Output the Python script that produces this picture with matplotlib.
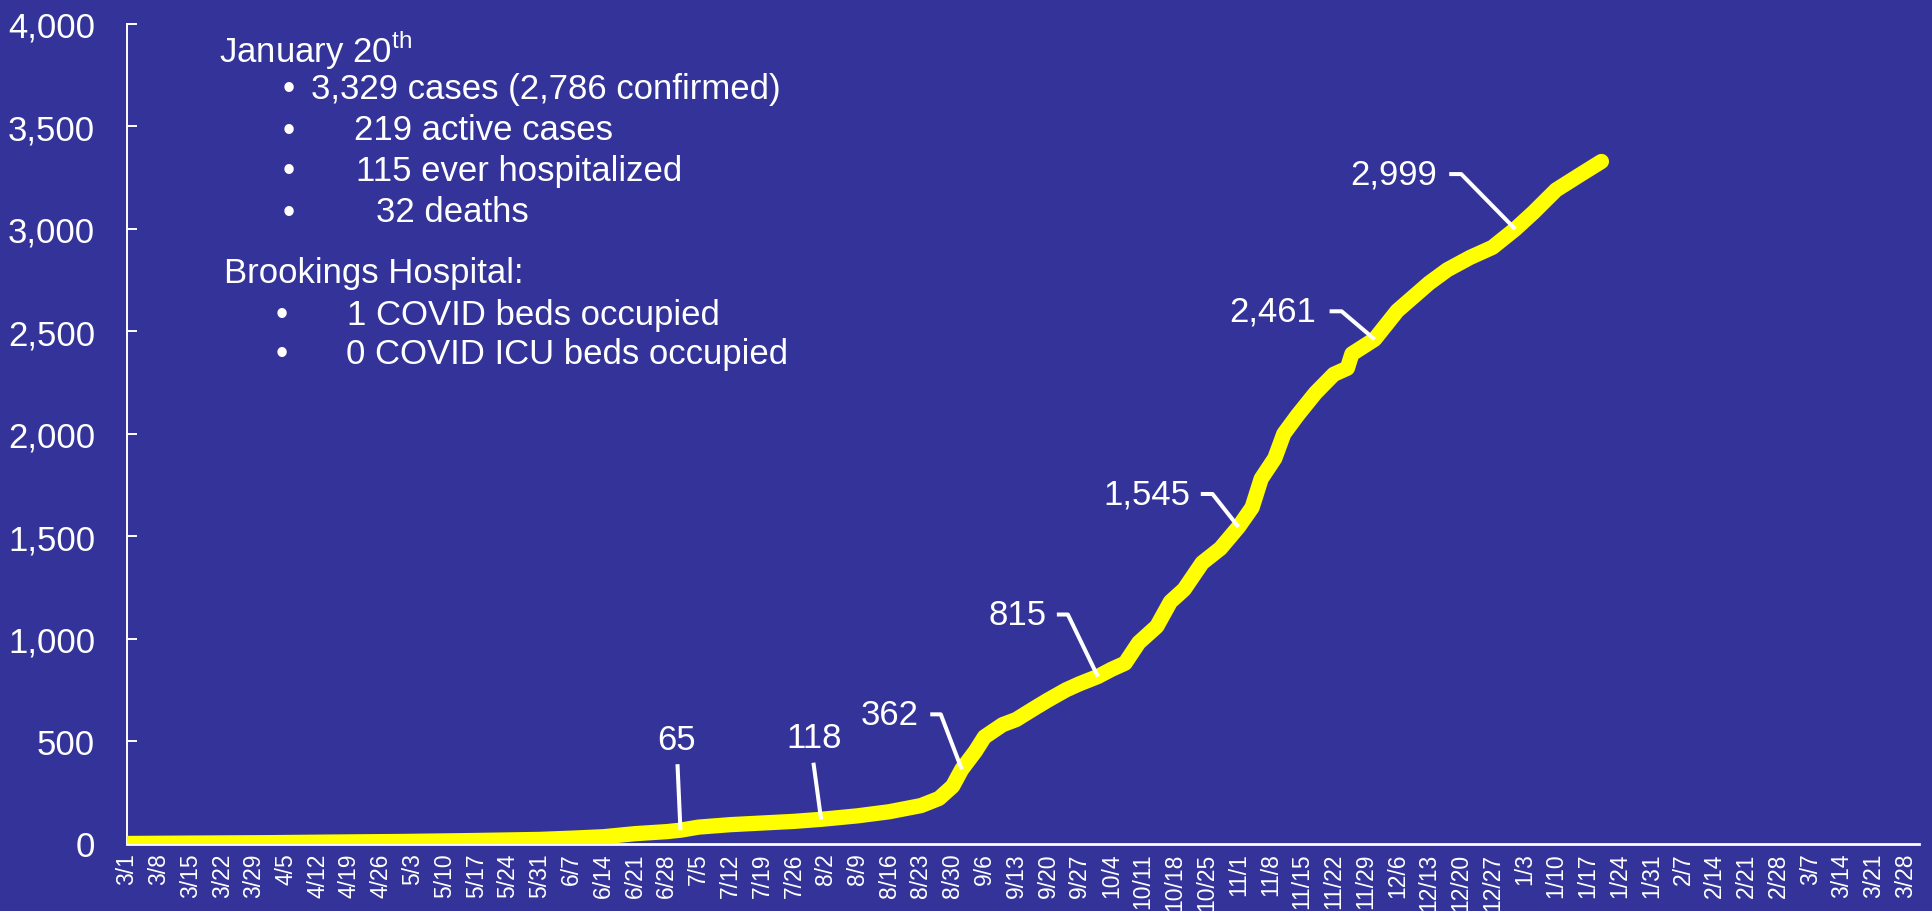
import numpy as np
import pandas as pd
import matplotlib
matplotlib.use('Agg')
import matplotlib.pyplot as plt
import matplotlib.transforms as mtransforms
from matplotlib.ticker import FuncFormatter

plt.rcParams['font.family'] = ['Liberation Sans', 'DejaVu Sans']
plt.rcParams['mathtext.fontset'] = 'custom'
plt.rcParams['mathtext.rm'] = 'Liberation Sans'

# cumulative cases
dates = ['2020-03-01', '2020-03-15', '2020-04-01', '2020-04-15', '2020-05-01',
         '2020-05-15', '2020-05-31', '2020-06-07', '2020-06-14', '2020-06-21',
         '2020-06-28', '2020-07-01', '2020-07-05', '2020-07-12', '2020-07-19',
         '2020-07-26', '2020-08-01', '2020-08-09', '2020-08-16', '2020-08-23',
         '2020-08-27', '2020-08-30', '2020-09-01', '2020-09-04', '2020-09-06',
         '2020-09-10', '2020-09-13', '2020-09-17', '2020-09-20', '2020-09-24',
         '2020-09-27', '2020-10-01', '2020-10-04', '2020-10-07', '2020-10-10',
         '2020-10-14', '2020-10-17', '2020-10-20', '2020-10-24', '2020-10-28',
         '2020-11-01', '2020-11-04', '2020-11-06', '2020-11-09', '2020-11-11',
         '2020-11-14', '2020-11-18', '2020-11-22', '2020-11-25', '2020-11-26',
         '2020-12-01', '2020-12-06', '2020-12-13', '2020-12-17', '2020-12-22',
         '2020-12-27', '2021-01-01', '2021-01-05', '2021-01-10', '2021-01-15',
         '2021-01-20']
cases = [0, 2, 4, 7, 10,
         14, 20, 26, 33, 48,
         58, 65, 80, 92, 100,
         108, 118, 135, 155, 185,
         220, 280, 362, 450, 520,
         580, 605, 660, 700, 750,
         780, 815, 850, 880, 980,
         1060, 1180, 1240, 1370, 1440,
         1545, 1640, 1780, 1880, 2000,
         2090, 2200, 2290, 2320, 2390,
         2461, 2600, 2735, 2800, 2860,
         2910, 2999, 3080, 3190, 3260,
         3329]

label_dates = ['2020-07-01', '2020-08-01', '2020-09-01', '2020-10-01',
               '2020-11-01', '2020-12-01', '2021-01-01']

start = pd.Timestamp('2020-03-01')
end = pd.Timestamp('2021-03-31')
tick_dates = pd.date_range('2020-03-01', '2021-03-28', freq='7D')
tick_labels = [f'{d.month}/{d.day}' for d in tick_dates]

day = (pd.to_datetime(dates) - start).days.values
tick_pos = (tick_dates - start).days.values

bg = '#333399'
W, H, dpi = 1933, 912, 100
fs = 25
fig = plt.figure(figsize=(W / dpi, H / dpi), dpi=dpi, facecolor=bg)
ax = fig.add_axes([127 / W, 1 - 844.5 / H, (1919 - 127) / W, (844.5 - 25) / H])
ax.set_facecolor(bg)

ax.plot(day, cases, color='#FFFF00', lw=11, solid_capstyle='round',
        solid_joinstyle='round', zorder=3)

ax.set_xlim(0, (end - start).days)
ax.set_ylim(0, 4000)
ax.set_yticks(np.arange(0, 4001, 500))
ax.yaxis.set_major_formatter(FuncFormatter(lambda v, p: f'{v:,.0f}'))
ax.set_xticks(tick_pos)
ax.set_xticklabels(tick_labels, rotation=90)

ax.tick_params(axis='y', direction='in', length=7.2, width=1.4, color='white',
               labelcolor='white', labelsize=fs, pad=23)
ax.tick_params(axis='x', length=0, labelcolor='white', labelsize=16.5, pad=6.5)
for s in ['top', 'right']:
    ax.spines[s].set_visible(False)
ax.spines['left'].set_color('white')
ax.spines['left'].set_linewidth(1.4)
ax.spines['bottom'].set_color('white')
ax.spines['bottom'].set_linewidth(2)

# callouts: leader in pixel offsets from the point, then text offset
callouts = [
    ([(0, 0), (-3, 66)], (-4, 91), 'center'),
    ([(0, 0), (-7.7, 56.6)], (-7, 82), 'center'),
    ([(0, 0), (-21, 55), (-31.5, 55)], (-43, 55), 'right'),
    ([(0, 0), (-30, 62), (-41, 62)], (-51, 62), 'right'),
    ([(0, 0), (-26, 33), (-37.7, 33)], (-48, 33), 'right'),
    ([(0, 0), (-33, 28), (-45, 28)], (-58, 28), 'right'),
    ([(0, 0), (-54, 55), (-66, 55)], (-78, 55), 'right'),
]
for d, (pts, toff, ha) in zip(label_dates, callouts):
    v = cases[dates.index(d)]
    x = (pd.Timestamp(d) - start).days
    px, py = ax.transData.transform((x, v))
    tr = mtransforms.Affine2D().translate(px, py)
    xs, ys = zip(*pts)
    fig.add_artist(plt.Line2D(xs, ys, transform=tr, color='white', lw=2.9,
                              solid_capstyle='butt', zorder=4))
    ax.annotate(f'{v:,}', xy=(x, v), xytext=toff, textcoords='offset pixels',
                ha=ha, va='center', color='white', fontsize=fs)


def ftext(x, y, s, **kw):
    fig.text(x / W, 1 - y / H, s, color='white', fontsize=fs, va='center', **kw)


ftext(219, 50, r'January 20$^{\mathrm{th}}$')
info = [(90, 311, '3,329 cases (2,786 confirmed)'),
        (131, 354, '219 active cases'),
        (172, 356, '115 ever hospitalized'),
        (213, 376, '32 deaths')]
for y, x, s in info:
    ftext(283, y, '•')
    ftext(x, y, s)
ftext(224, 273, 'Brookings Hospital:')
hosp = [(315, 347, '1 COVID beds occupied'),
        (355, 346, '0 COVID ICU beds occupied')]
for y, x, s in hosp:
    ftext(276, y, '•')
    ftext(x, y, s)

fig.savefig('out.png', dpi=dpi, facecolor=bg)
